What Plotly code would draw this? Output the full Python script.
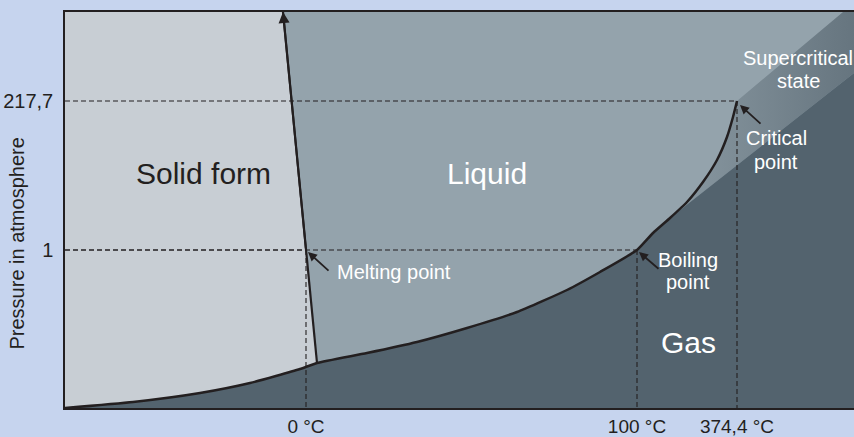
import plotly.graph_objects as go

# ---- schematic data (horizontal / vertical position units of the diagram) ----
sublimation_x = [0, 68, 135, 185, 235, 252]
sublimation_y = [0, 6, 15, 25, 39, 45]

vaporization_x = [252, 302, 352, 402, 452, 502, 535, 572, 588, 605, 622, 638, 652, 662, 668, 672]
vaporization_y = [45, 55, 66, 80, 96, 118, 136, 158, 175, 190, 206, 226, 248, 271, 291, 307]
band_start_index = 9

melting_x = [252, 241, 218]
melting_y = [45, 158, 396]

supercritical_upper_x = [672, 778]
supercritical_upper_y = [307, 396]
supercritical_lower_x = [605, 789]
supercritical_lower_y = [190, 335]

x_range = [0, 789]
y_range = [0, 396]

x_tick_vals = [241, 572, 672]
x_tick_text = ["0 °C", "100 °C", "374,4 °C"]
y_tick_vals = [158, 307]
y_tick_text = ["1", "217,7"]

# guide points (temperature position, pressure position)
guide_points = [(241, 158), (572, 158), (672, 307)]

# ---- styles ----
BG = "#C6D4EE"
SOLID = "#C8CED4"
LIQUID = "#94A3AC"
GAS = "#53636E"
INK = "#231F20"
FONT = "Liberation Sans, Arial, sans-serif"

fig = go.Figure()

# solid region
solid_x = sublimation_x + melting_x[1:] + [x_range[0]]
solid_y = sublimation_y + melting_y[1:] + [y_range[1]]
fig.add_trace(go.Scatter(x=solid_x, y=solid_y, fill="toself", fillcolor=SOLID,
                         mode="lines", line=dict(width=0), hoverinfo="skip"))

# supercritical band
vx_up = vaporization_x[band_start_index:]
vy_up = vaporization_y[band_start_index:]
band_x = vx_up + [supercritical_upper_x[1], x_range[1], supercritical_lower_x[1], supercritical_lower_x[0]]
band_y = vy_up + [supercritical_upper_y[1], y_range[1], supercritical_lower_y[1], supercritical_lower_y[0]]
fig.add_trace(go.Scatter(x=band_x, y=band_y, fill="toself",
                         fillgradient=dict(type="horizontal",
                                           colorscale=[[0, "#8A99A2"], [1, "#66757F"]],
                                           start=supercritical_lower_x[0], stop=x_range[1]),
                         mode="lines", line=dict(width=0), hoverinfo="skip"))

# gas region
vx_lo = vaporization_x[:band_start_index + 1]
vy_lo = vaporization_y[:band_start_index + 1]
gas_x = sublimation_x + vx_lo[1:] + [supercritical_lower_x[1], x_range[1]]
gas_y = sublimation_y + vy_lo[1:] + [supercritical_lower_y[1], y_range[0]]
fig.add_trace(go.Scatter(x=gas_x, y=gas_y, fill="toself", fillcolor=GAS,
                         mode="lines", line=dict(width=0), hoverinfo="skip"))

# dashed guide lines
gx, gy = [], []
for px, py in guide_points:
    gx += [x_range[0], px, None, px, px, None]
    gy += [py, py, None, py, y_range[0], None]
fig.add_trace(go.Scatter(x=gx, y=gy, mode="lines",
                         line=dict(color=INK, width=1.1, dash="5px,3px"), hoverinfo="skip"))

# phase boundary curves
fig.add_trace(go.Scatter(x=sublimation_x + vaporization_x[1:], y=sublimation_y + vaporization_y[1:],
                         mode="lines", line=dict(color=INK, width=2.5, shape="spline", smoothing=0.5),
                         hoverinfo="skip"))
fig.add_trace(go.Scatter(x=melting_x, y=melting_y, mode="lines",
                         line=dict(color=INK, width=2.2), hoverinfo="skip"))

annotations = []
# arrowhead on the melting line top
annotations.append(dict(x=melting_x[-1], y=melting_y[-1], ax=melting_x[1], ay=melting_y[1],
                        xref="x", yref="y", axref="x", ayref="y", text="", showarrow=True,
                        arrowhead=2, arrowsize=1.1, arrowwidth=2, arrowcolor=INK))

# pointer arrows
for (hx, hy), (ox, oy) in zip([(243, 156), (574, 156), (675, 303)], [(22, 20), (21, 18), (22, 20)]):
    annotations.append(dict(x=hx, y=hy, ax=ox, ay=oy, xref="x", yref="y", text="",
                            showarrow=True, arrowhead=2, arrowsize=1, arrowwidth=1.8,
                            arrowcolor=INK))

def label(x, y, text, size, color, xanchor="center"):
    annotations.append(dict(x=x, y=y, xref="x", yref="y", text=text, showarrow=False,
                            xanchor=xanchor, yanchor="middle",
                            font=dict(family=FONT, size=size, color=color)))

label(138, 235, "Solid form", 30, INK)
label(422, 235, "Liquid", 30, "white")
label(623, 66, "Gas", 30, "white")
label(270, 136, "Melting point", 20, "white", xanchor="left")
label(623, 148, "Boiling", 20, "white")
label(623, 126, "point", 20, "white")
label(711, 270, "Critical", 20, "white")
label(711, 246, "point", 20, "white")
label(733, 350, "Supercritical", 20, "white")
label(733, 327, "state", 20, "white")

# y axis title
annotations.append(dict(x=-0.061, y=0.415, xref="paper", yref="paper",
                        xanchor="center", yanchor="middle",
                        text="Pressure in atmosphere", showarrow=False, textangle=-90,
                        font=dict(family=FONT, size=20, color=INK)))

fig.update_layout(
    width=854, height=437,
    margin=dict(l=65, r=0, t=12, b=29, autoexpand=False),
    paper_bgcolor=BG, plot_bgcolor=LIQUID,
    showlegend=False,
    annotations=annotations,
    font=dict(family=FONT, size=20, color=INK),
    xaxis=dict(range=x_range, showgrid=False, zeroline=False, showline=True,
               linecolor=INK, linewidth=1.8, mirror=True, automargin=False,
               tickmode="array", tickvals=x_tick_vals, ticktext=x_tick_text,
               tickfont=dict(size=19), ticks="", ticklabelstandoff=0, fixedrange=True),
    yaxis=dict(range=y_range, showgrid=False, zeroline=False, showline=True,
               linecolor=INK, linewidth=1.5, automargin=False,
               tickmode="array", tickvals=y_tick_vals, ticktext=y_tick_text,
               ticks="", ticklabelstandoff=6, fixedrange=True),
)

fig.write_html("out.html", config={"displayModeBar": False},
               post_script="document.body.style.margin='0px';document.body.style.overflow='hidden';")
